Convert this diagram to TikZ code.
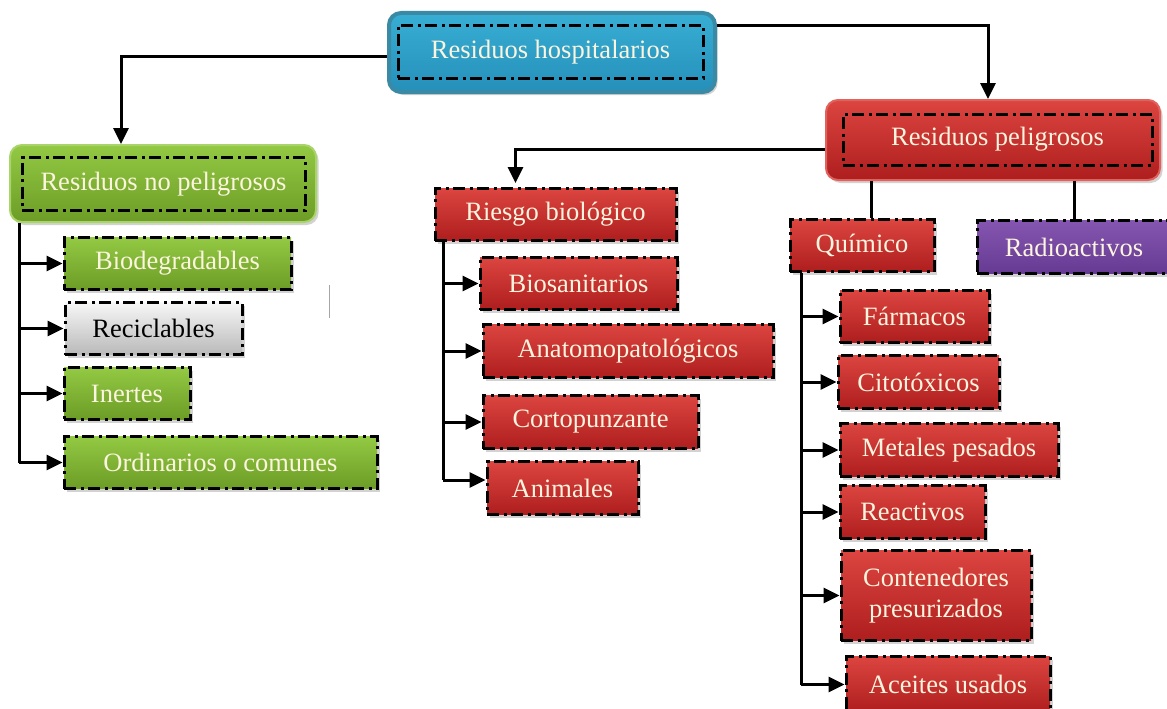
\documentclass[tikz,border=0pt]{standalone}
\usepackage{fontspec}
\setmainfont{Liberation Serif}
\usetikzlibrary{arrows.meta,shadows}
\definecolor{cream}{HTML}{FBF4DE}
\definecolor{redtop}{HTML}{DC4540}
\definecolor{redbot}{HTML}{AE1E1E}
\definecolor{grntop}{HTML}{93C943}
\definecolor{grnbot}{HTML}{6C9C26}
\definecolor{blutop}{HTML}{38AED4}
\definecolor{blubot}{HTML}{2590BA}
\definecolor{bluedge}{HTML}{3A8AA5}
\definecolor{purtop}{HTML}{8556B0}
\definecolor{purbot}{HTML}{663A92}
\definecolor{gratop}{HTML}{F7F7F7}
\definecolor{grabot}{HTML}{B9B9B9}
\newcommand{\myfs}{\fontsize{26.5}{32}\selectfont}
\tikzset{
  dashbox/.style={draw=black, line width=3pt, dash pattern=on 12pt off 4.5pt on 3pt off 4.5pt,
    inner sep=0pt, font=\myfs, text=cream, align=center},
  boxshadow/.style={drop shadow={opacity=0.35, shadow xshift=2.5pt, shadow yshift=-3pt}},
  redbox/.style={dashbox, boxshadow, top color=redtop, bottom color=redbot},
  grnbox/.style={dashbox, boxshadow, top color=grntop, bottom color=grnbot},
  purbox/.style={dashbox, boxshadow, top color=purtop, bottom color=purbot},
  grabox/.style={dashbox, boxshadow, top color=gratop, bottom color=grabot, text=black},
  outerbox/.style={rounded corners=12pt, inner sep=0pt, boxshadow},
  conn/.style={draw=black, line width=3pt},
  arr/.style={conn, -{Triangle[length=16pt,width=15pt]}},
}
\begin{document}
\begin{tikzpicture}[x=1pt,y=-1pt]
\useasboundingbox (0,0) rectangle (1167,709);
\fill[white] (0,0) rectangle (1167,709);

% top node
\node[outerbox, draw=bluedge, line width=4pt, top color=blutop, bottom color=blubot,
  minimum width=326pt, minimum height=79pt] (hosp) at (552,52.5) {};
\node[dashbox, minimum width=305pt, minimum height=53pt] (hospin) at (550.5,52) {Residuos hospitalarios};

% no peligrosos
\node[outerbox, draw=grntop!80!white, line width=2pt, top color=grntop, bottom color=grnbot,
  minimum width=306pt, minimum height=77pt] (nop) at (163,183.5) {};
\node[dashbox, minimum width=283pt, minimum height=53pt] (nopin) at (163.5,184) {Residuos no peligrosos};

% peligrosos
\node[outerbox, draw=redtop!85!white, line width=2pt, top color=redtop, bottom color=redbot,
  minimum width=334pt, minimum height=80pt] (pel) at (993,140) {};
\node[dashbox, minimum width=309pt, minimum height=51pt] (pelin) at (997.5,139.5) {Residuos peligrosos};

% green children
\node[grnbox, minimum width=227pt, minimum height=52pt] (biod) at (177.5,263.5) {Biodegradables};
\node[grabox, minimum width=177pt, minimum height=52pt] (reci) at (153.5,328.5) {Reciclables};
\node[grnbox, minimum width=126pt, minimum height=52pt] (iner) at (127,393.5) {Inertes};
\node[grnbox, minimum width=313pt, minimum height=52pt] (ordi) at (220.5,462.5) {Ordinarios o comunes};

% riesgo biologico
\node[redbox, minimum width=241pt, minimum height=52pt] (ries) at (555.5,214.5) {Riesgo biológico};
\node[redbox, minimum width=197pt, minimum height=52pt] (bios) at (578.5,283.5) {Biosanitarios};
\node[redbox, minimum width=290pt, minimum height=53pt] (anat) at (628,351) {Anatomopatológicos};
\node[redbox, minimum width=215pt, minimum height=53pt] (cort) at (590.5,422) {Cortopunzante};
\node[redbox, minimum width=151pt, minimum height=53pt] (anim) at (562.5,488) {Animales};

% quimico / radioactivos
\node[redbox, minimum width=144pt, minimum height=52pt] (quim) at (862,245.5) {Químico};
\node[purbox, minimum width=194pt, minimum height=53pt] (radi) at (1074,247) {Radioactivos};

\node[redbox, minimum width=149pt, minimum height=52pt] (farm) at (914.5,316.5) {Fármacos};
\node[redbox, minimum width=161pt, minimum height=53pt] (cito) at (918.5,382) {Citotóxicos};
\node[redbox, minimum width=218pt, minimum height=53pt] (meta) at (949,450) {Metales pesados};
\node[redbox, minimum width=145pt, minimum height=53pt] (reac) at (912.5,512) {Reactivos};
\node[redbox, minimum width=190pt, minimum height=90pt] (cont) at (936,595.5) {Contenedores\\[-1pt]presurizados};
\node[redbox, minimum width=204pt, minimum height=56pt] (acei) at (948,684.5) {Aceites usados};

% stray thin line
\draw[gray!70, line width=0.8pt] (329,285) -- (329,318);

% main connectors
\draw[arr] (hosp.west |- 0,57) -| ([xshift=-42pt]nop.north);
\draw[arr] ([yshift=-15pt]hosp.north east) -| ([xshift=-5pt]pel.north);
\draw[arr] ([yshift=-9pt]pel.west) -| ([xshift=-40pt,yshift=4pt]ries.north);
\draw[conn] ([xshift=9pt]quim.north |- pel.south) -- ([xshift=9pt]quim.north);
\draw[conn] (radi.north |- pel.south) -- (radi.north);

% green trunk
\coordinate (gt) at (19,0);
\draw[conn] (gt |- nop.south) -- (gt |- ordi.west);
\foreach \n in {biod,reci,iner,ordi} \draw[arr] (gt |- \n.west) -- (\n.west);

% riesgo trunk
\coordinate (rt) at (443,0);
\draw[conn] (rt |- ries.south) -- (rt |- 0,480);
\draw[arr] (rt |- bios.west) -- (bios.west);
\draw[arr] (rt |- anat.west) -- (anat.west);
\draw[arr] (rt |- cort.west) -- (cort.west);
\draw[arr] (rt |- 0,480) -- (anim.west |- 0,480);

% quimico trunk
\coordinate (qt) at (801,0);
\draw[conn] (qt |- quim.south) -- (qt |- acei.west);
\foreach \n in {farm,cito,meta,reac,cont,acei} \draw[arr] (qt |- \n.west) -- (\n.west);
\end{tikzpicture}
\end{document}
